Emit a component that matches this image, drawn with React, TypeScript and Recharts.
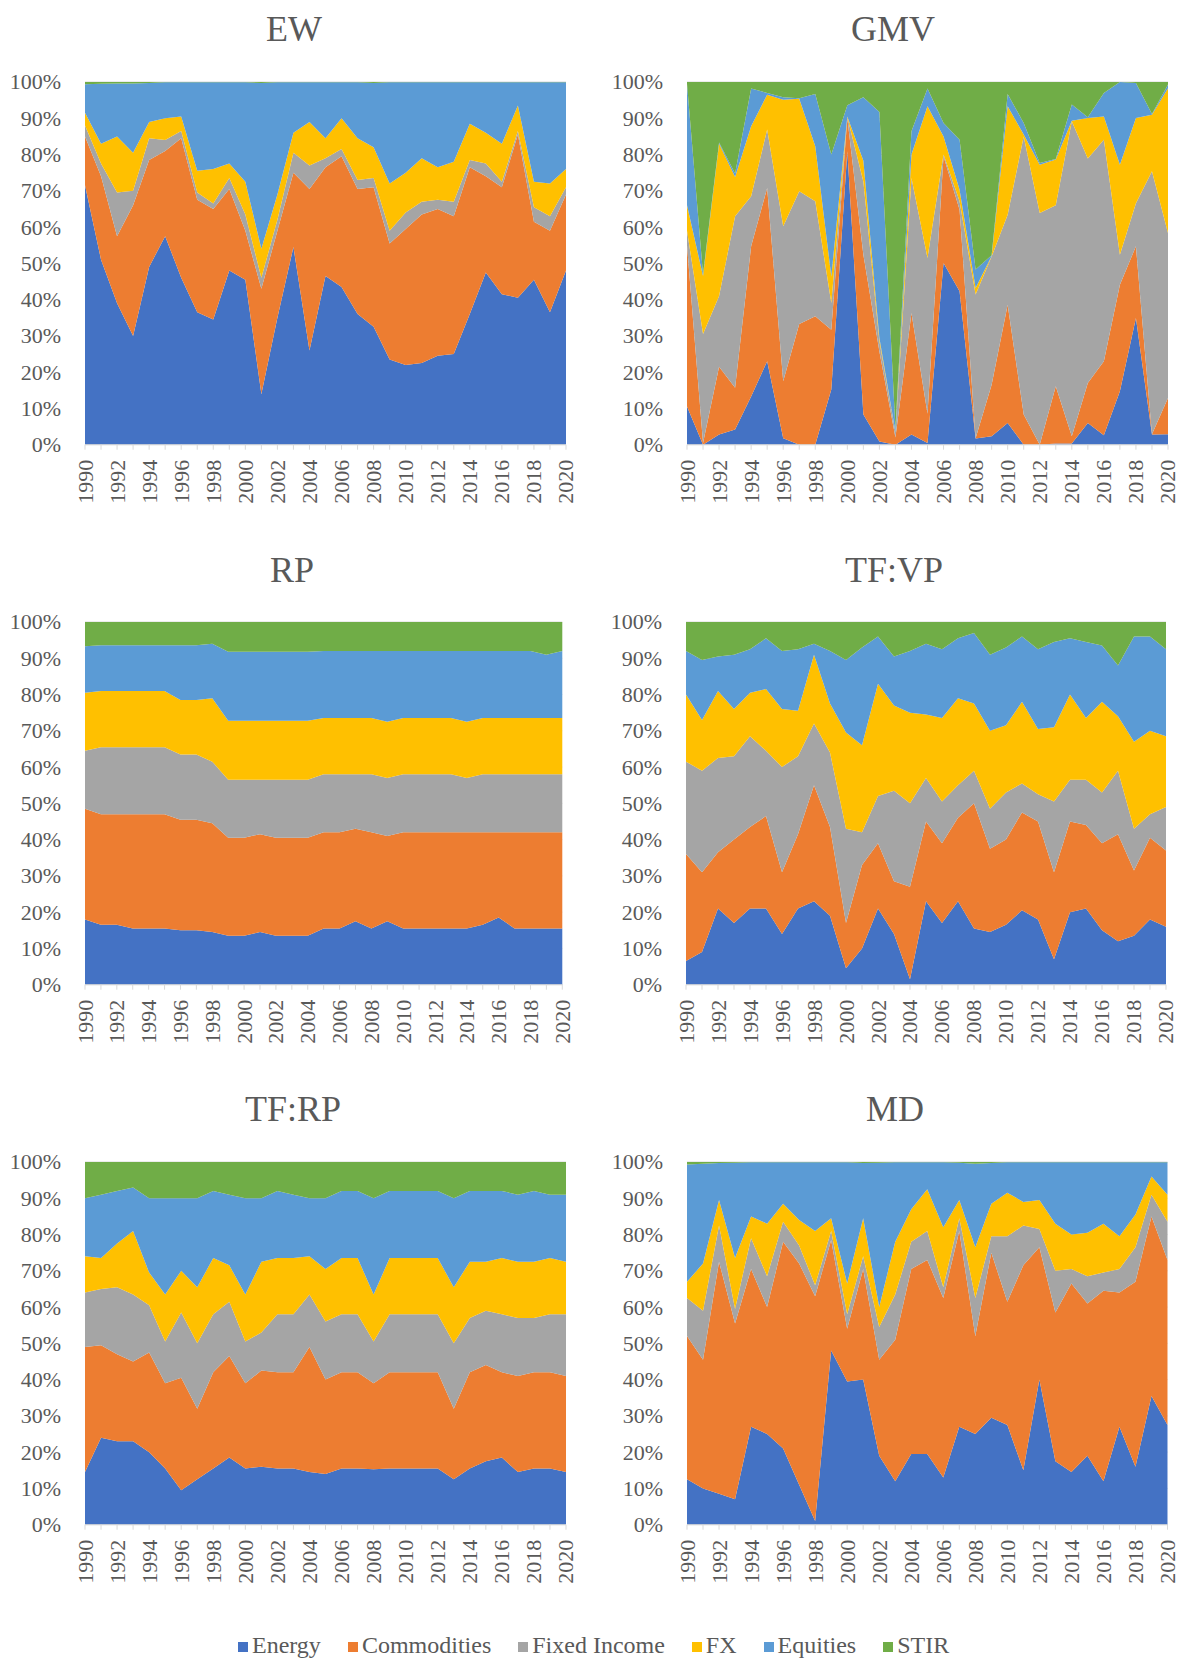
import React from 'react';
import { AreaChart, Area, XAxis, YAxis, CartesianGrid } from 'recharts';

const years = [1990, 1991, 1992, 1993, 1994, 1995, 1996, 1997, 1998, 1999, 2000, 2001, 2002, 2003, 2004, 2005, 2006, 2007, 2008, 2009, 2010, 2011, 2012, 2013, 2014, 2015, 2016, 2017, 2018, 2019, 2020];
const seriesNames = ['Energy', 'Commodities', 'Fixed Income', 'FX', 'Equities', 'STIR'];
const seriesColors = ['#4472C4', '#ED7D31', '#A5A5A5', '#FFC000', '#5B9BD5', '#70AD47'];
const yTicks = [0, 0.1, 0.2, 0.3, 0.4, 0.5, 0.6, 0.7, 0.8, 0.9, 1];

// EW
const ewEnergy = [71.5, 51, 39, 30, 49, 57.5, 46, 36.5, 34.5, 48, 45.5, 14, 35, 54.5, 26, 46.5, 43.5, 36, 32.5, 23.5, 22, 22.5, 24.5, 25, 36, 47.5, 41.5, 40.5, 45.5, 36.5, 48];
const ewCommodities = [13.5, 23, 18.5, 36, 29.5, 23.5, 38.5, 31, 30.5, 22.5, 13.5, 29, 24, 20.5, 44.5, 30, 36, 34.5, 38.5, 32, 37.5, 41, 40.5, 38, 40.5, 26.5, 29.5, 45, 16, 22.5, 21];
const ewFixedIncome = [3, 3.5, 12, 4, 6, 3, 2, 2, 1.5, 3, 4.5, 3, 3, 5.5, 6.5, 2.5, 2, 2.5, 2.5, 3.5, 4.5, 3.5, 2.5, 4, 2, 3.5, 1.5, 1, 4, 4, 2];
const ewFX = [3.5, 5.5, 15.5, 10.5, 4.5, 6, 4, 6, 9.5, 4, 9, 8, 7, 5.5, 12, 5.5, 8.5, 11.5, 8.5, 13, 11, 12, 9, 11, 10, 8.5, 10.5, 7, 7, 9, 5];
const ewEquities = [7.9, 16.5, 14.6, 19.1, 10.7, 9.9, 9.4, 24.4, 23.9, 22.4, 27.4, 45.7, 30.9, 13.9, 10.9, 15.4, 9.9, 15.4, 17.7, 27.9, 24.9, 20.9, 23.4, 21.9, 11.4, 13.9, 16.9, 6.4, 27.4, 27.9, 23.9];
const ewSTIR = [0.6, 0.5, 0.4, 0.4, 0.3, 0.1, 0.1, 0.1, 0.1, 0.1, 0.1, 0.3, 0.1, 0.1, 0.1, 0.1, 0.1, 0.1, 0.3, 0.1, 0.1, 0.1, 0.1, 0.1, 0.1, 0.1, 0.1, 0.1, 0.1, 0.1, 0.1];

// GMV
const gmvEnergy = [10.5, 0, 2.8, 4.2, 13.3, 23, 1.8, 0, 0, 15.2, 80.9, 8.3, 0.9, 0, 2.8, 0.5, 50.1, 42.3, 1.7, 2.3, 6, 0, 0, 0.3, 0.3, 6, 2.6, 14.7, 34.9, 2.8, 2.9];
const gmvCommodities = [44.5, 0.5, 18.7, 11.5, 41.4, 47.8, 15.7, 33.3, 35.4, 16.5, 9.1, 44.1, 24.8, 2, 33.5, 8, 29.4, 22.5, 0.1, 14.2, 32.6, 8.3, 0, 15.8, 2, 11, 20.4, 29.4, 19.8, 0.1, 10];
const gmvFixedIncome = [4, 30, 19.5, 47.3, 13.8, 16.1, 42.7, 36.6, 31.7, 7.4, 0.3, 20.2, 2.8, 1.5, 37.2, 43, 0.5, 2.3, 39.6, 35.4, 24.8, 76.7, 63.9, 49.9, 86.9, 61.9, 61.1, 8.3, 11.9, 72.5, 45.5];
const gmvFX = [7, 16, 42, 10.8, 19.3, 9.6, 34.9, 25.5, 15.2, 7.3, 0.2, 5.7, 0.9, 0.1, 6.5, 41.8, 5, 3.2, 1.8, 0.1, 29.9, 0.5, 13.3, 12.6, 0.1, 11.2, 6.4, 24.8, 23.5, 15.6, 39.9];
const gmvEquities = [33.5, 0.5, 0.3, 1, 10.4, 0.5, 0.7, 0.1, 14.4, 33.6, 3.1, 17.5, 62.3, 0.9, 6.4, 4.9, 3.7, 13.8, 5.1, 0.2, 3.4, 3.2, 0.5, 0.2, 4.5, 0.2, 6.5, 22.8, 9.6, 0.2, 1];
const gmvSTIR = [0.5, 53, 16.7, 25.2, 1.8, 3, 4.2, 4.5, 3.3, 20, 6.4, 4.2, 8.3, 95.5, 13.6, 1.8, 11.3, 15.9, 51.7, 47.8, 3.3, 11.3, 22.3, 21.2, 6.2, 9.7, 3, 0, 0.3, 8.8, 0.7];

// RP
const rpEnergy = [18, 16.5, 16.5, 15.5, 15.5, 15.5, 15, 15, 14.5, 13.5, 13.5, 14.5, 13.5, 13.5, 13.5, 15.5, 15.5, 17.5, 15.5, 17.5, 15.5, 15.5, 15.5, 15.5, 15.5, 16.5, 18.5, 15.5, 15.5, 15.5, 15.5];
const rpCommodities = [30.5, 30.5, 30.5, 31.5, 31.5, 31.5, 30.5, 30.5, 30, 27, 27, 27, 27, 27, 27, 26.5, 26.5, 25.5, 26.5, 23.5, 26.5, 26.5, 26.5, 26.5, 26.5, 25.5, 23.5, 26.5, 26.5, 26.5, 26.5];
const rpFixedIncome = [16, 18.5, 18.5, 18.5, 18.5, 18.5, 18, 18, 17, 16, 16, 15, 16, 16, 16, 16, 16, 15, 16, 16, 16, 16, 16, 16, 15, 16, 16, 16, 16, 16, 16];
const rpFX = [16, 15.5, 15.5, 15.5, 15.5, 15.5, 15, 15, 17.5, 16.3, 16.3, 16.3, 16.3, 16.3, 16.3, 15.5, 15.5, 15.5, 15.5, 15.5, 15.5, 15.5, 15.5, 15.5, 15.5, 15.5, 15.5, 15.5, 15.5, 15.5, 15.5];
const rpEquities = [12.8, 12.6, 12.6, 12.6, 12.6, 12.6, 15.1, 15.1, 15, 19, 19, 19, 19, 19, 19, 18.5, 18.5, 18.5, 18.5, 19.5, 18.5, 18.5, 18.5, 18.5, 19.5, 18.5, 18.5, 18.5, 18.5, 17.5, 18.5];
const rpSTIR = [6.7, 6.4, 6.4, 6.4, 6.4, 6.4, 6.4, 6.4, 6, 8.2, 8.2, 8.2, 8.2, 8.2, 8.2, 8, 8, 8, 8, 8, 8, 8, 8, 8, 8, 8, 8, 8, 8, 9, 8];

// TF:VP
const tfvpEnergy = [6.5, 9, 21, 17, 21, 21, 14, 21, 23, 19, 4.5, 10, 21, 14, 1.5, 23, 17, 23, 15.5, 14.5, 16.5, 20.5, 18, 7, 20, 21, 15, 12, 13.5, 18, 16];
const tfvpCommodities = [29.5, 22, 15.5, 23, 22.5, 25.5, 17, 20.5, 32, 24.5, 12.5, 23, 18, 14.5, 25.5, 22, 22, 23, 34.5, 23, 23.5, 27, 27, 24, 25, 23, 24, 29.5, 18, 22.5, 21];
const tfvpFixedIncome = [25.5, 28, 26, 23, 25, 18, 29, 21.5, 17, 20.5, 26, 9, 13, 25, 23, 12, 11.5, 9, 9, 11, 13, 8, 7.5, 19.5, 11.5, 12.5, 14, 17.5, 11.5, 6.5, 12];
const tfvpFX = [18.5, 14, 18.5, 13, 12, 17, 16, 12.5, 19, 13.5, 26.5, 24, 31, 23.5, 25, 17.5, 23, 24, 18.5, 21.5, 18.5, 22.5, 18, 20.5, 23.5, 17, 25, 15, 24, 23, 19.5];
const tfvpEquities = [12, 16.5, 9.5, 15, 12, 14, 16, 17, 3, 14.5, 20, 27, 13, 13.5, 17, 19.5, 19, 16.5, 19.5, 21, 21.5, 18, 22, 23.5, 15.5, 21, 15.5, 14, 29, 26, 24];
const tfvpSTIR = [8, 10.5, 9.5, 9, 7.5, 4.5, 8, 7.5, 6, 8, 10.5, 7, 4, 9.5, 8, 6, 7.5, 4.5, 3, 9, 7, 4, 7.5, 5.5, 4.5, 5.5, 6.5, 12, 4, 4, 7.5];

// TF:RP
const tfrpEnergy = [14.5, 24, 23, 23, 20, 15.5, 9.5, 12.5, 15.5, 18.5, 15.5, 16, 15.5, 15.5, 14.5, 14, 15.5, 15.5, 15.3, 15.5, 15.5, 15.5, 15.5, 12.5, 15.5, 17.5, 18.5, 14.5, 15.5, 15.5, 14.5];
const tfrpCommodities = [34.5, 25.5, 24, 22, 27.5, 23.5, 31, 19.5, 26.5, 28, 23.5, 26.5, 26.5, 26.5, 34.5, 26, 26.5, 26.5, 23.7, 26.5, 26.5, 26.5, 26.5, 19.5, 26.5, 26.5, 23.5, 26.5, 26.5, 26.5, 26.5];
const tfrpFixedIncome = [15, 15.5, 18.5, 18.5, 13, 11.5, 18, 18, 16, 15, 11.5, 10.5, 16, 16, 14.5, 16, 16, 16, 11.5, 16, 16, 16, 16, 18, 15, 15, 16, 16, 15, 16, 17];
const tfrpFX = [10, 8.5, 12, 17.5, 9, 13, 11.5, 15.5, 15.5, 10, 13, 19.5, 15.5, 15.5, 10.5, 14.5, 15.5, 15.5, 13, 15.5, 15.5, 15.5, 15.5, 15.5, 15.5, 13.5, 15.5, 15.5, 15.5, 15.5, 14.5];
const tfrpEquities = [16, 17.5, 14.5, 12, 20.5, 26.5, 20, 24.5, 18.5, 19.5, 26.5, 17.5, 18.5, 17.5, 16, 19.5, 18.5, 18.5, 26.5, 18.5, 18.5, 18.5, 18.5, 24.5, 19.5, 19.5, 18.5, 18.5, 19.5, 17.5, 18.5];
const tfrpSTIR = [10, 9, 8, 7, 10, 10, 10, 10, 8, 9, 10, 10, 8, 9, 10, 10, 8, 8, 10, 8, 8, 8, 8, 10, 8, 8, 8, 9, 8, 9, 9];

// MD
const mdEnergy = [12.5, 10, 8.5, 7, 27, 25, 21, 11, 1, 48, 39.5, 40, 19, 12, 19.5, 19.5, 13, 27, 25, 29.5, 27.5, 15, 40, 17.5, 14.5, 19, 12, 27, 16, 35.5, 27.5];
const mdCommodities = [39.5, 35.5, 64, 48.5, 43.5, 35, 57, 61, 62, 30.5, 14.5, 30.5, 26.5, 39, 51, 53.5, 49.5, 54, 27, 45.5, 34, 56.5, 36.5, 41, 52, 42, 52.5, 37, 51, 49.5, 45.5];
const mdFixedIncome = [10.5, 13.5, 10, 4, 8.5, 8.5, 5.5, 5, 3, 2.5, 4, 3.5, 9, 12.5, 7.5, 8, 3, 3.5, 10.5, 4.5, 18, 11, 5, 11.5, 4, 7.5, 5, 6.5, 9.5, 6, 10.5];
const mdFX = [4.5, 13, 7, 14, 6, 14.5, 5, 7, 15, 3.5, 8.5, 10.5, 5.5, 14.5, 9, 11.5, 16.5, 5, 14, 9, 12, 6.5, 8, 13, 9.5, 12, 13.5, 9, 9, 5, 7.5];
const mdEquities = [32.3, 27.5, 10.2, 26.3, 14.9, 16.9, 11.4, 15.9, 18.9, 15.4, 33.4, 15.2, 39.8, 21.9, 12.9, 7.4, 17.9, 10.3, 23, 11.2, 8.4, 10.9, 10.4, 16.9, 19.9, 19.4, 16.9, 20.4, 14.4, 3.9, 8.9];
const mdSTIR = [0.7, 0.5, 0.3, 0.2, 0.1, 0.1, 0.1, 0.1, 0.1, 0.1, 0.1, 0.3, 0.2, 0.1, 0.1, 0.1, 0.1, 0.2, 0.5, 0.3, 0.1, 0.1, 0.1, 0.1, 0.1, 0.1, 0.1, 0.1, 0.1, 0.1, 0.1];

const FONT = "'Liberation Serif', 'Times New Roman', Times, serif";
const TEXT_COLOR = '#595959';
const AXIS_COLOR = '#D9D9D9';

function buildData(series: number[][]) {
  return years.map((yr, i) => {
    const row: Record<string, number | string> = { year: String(yr) };
    seriesNames.forEach((name, k) => {
      row[name] = series[k][i];
    });
    return row;
  });
}

const panels = [
  { title: 'EW', series: [ewEnergy, ewCommodities, ewFixedIncome, ewFX, ewEquities, ewSTIR], L: 85.4, T: 82.3, W: 481, titleX: 294, titleY: 28.8 },
  { title: 'GMV', series: [gmvEnergy, gmvCommodities, gmvFixedIncome, gmvFX, gmvEquities, gmvSTIR], L: 686.7, T: 82.3, W: 481, titleX: 893, titleY: 28.8 },
  { title: 'RP', series: [rpEnergy, rpCommodities, rpFixedIncome, rpFX, rpEquities, rpSTIR], L: 85.4, T: 622.3, W: 477.3, titleX: 292, titleY: 570 },
  { title: 'TF:VP', series: [tfvpEnergy, tfvpCommodities, tfvpFixedIncome, tfvpFX, tfvpEquities, tfvpSTIR], L: 686, T: 622.3, W: 480, titleX: 894, titleY: 569.5 },
  { title: 'TF:RP', series: [tfrpEnergy, tfrpCommodities, tfrpFixedIncome, tfrpFX, tfrpEquities, tfrpSTIR], L: 85.4, T: 1162.3, W: 481, titleX: 293, titleY: 1109 },
  { title: 'MD', series: [mdEnergy, mdCommodities, mdFixedIncome, mdFX, mdEquities, mdSTIR], L: 686.7, T: 1162.3, W: 480.5, titleX: 895, titleY: 1109 },
];

const PLOT_H = 362.7;
const Y_AXIS_W = 80;
const TOP_PAD = 20;
const RIGHT_PAD = 15;
const X_AXIS_H = 80;

const textStyle = { fontFamily: FONT, fontSize: 22, fill: TEXT_COLOR };

const XTick = (props: any) => {
  const { x, y, payload } = props;
  const yr = Number(payload.value);
  if (yr % 2 !== 0) return <g />;
  return (
    <text
      x={0}
      y={0}
      transform={`translate(${x},${y}) rotate(-90)`}
      textAnchor="end"
      dominantBaseline="central"
      style={textStyle}
    >
      {payload.value}
    </text>
  );
};

const pct = (v: number) => `${Math.round(v * 100)}%`;

const YTick = (props: any) => {
  const { x, y, payload } = props;
  return (
    <text x={x} y={y} textAnchor="end" dominantBaseline="central" style={textStyle}>
      {pct(payload.value)}
    </text>
  );
};

function Panel({ p }: { p: (typeof panels)[number] }) {
  const data = buildData(p.series);
  const width = Y_AXIS_W + p.W + RIGHT_PAD;
  const height = TOP_PAD + PLOT_H + X_AXIS_H;
  return (
    <>
      <div
        style={{
          position: 'absolute',
          left: p.titleX - 150,
          top: p.titleY - 20,
          width: 300,
          height: 40,
          lineHeight: '40px',
          textAlign: 'center',
          fontFamily: FONT,
          fontSize: 36,
          color: TEXT_COLOR,
          whiteSpace: 'nowrap',
        }}
      >
        {p.title}
      </div>
      <div style={{ position: 'absolute', left: p.L - Y_AXIS_W, top: p.T - TOP_PAD, width, height, fontFamily: FONT }}>
        <AreaChart
          width={width}
          height={height}
          data={data}
          stackOffset="expand"
          margin={{ top: TOP_PAD, right: RIGHT_PAD, bottom: 0, left: 0 }}
          style={{ fontFamily: FONT }}
        >
          <CartesianGrid vertical={false} stroke={AXIS_COLOR} />
          <XAxis
            dataKey="year"
            type="category"
            interval={0}
            height={X_AXIS_H}
            tick={<XTick />}
            tickSize={5}
            tickMargin={10}
            tickLine={{ stroke: AXIS_COLOR }}
            axisLine={{ stroke: AXIS_COLOR }}
          />
          <YAxis
            width={Y_AXIS_W}
            domain={[0, 1]}
            ticks={yTicks}
            axisLine={false}
            tickLine={false}
            tickSize={0}
            tickMargin={24}
            tick={<YTick />}
          />
          {seriesNames.map((name, k) => (
            <Area
              key={name}
              type="linear"
              dataKey={name}
              stackId="s"
              stroke="none"
              fill={seriesColors[k]}
              fillOpacity={1}
              dot={false}
              activeDot={false}
              isAnimationActive={false}
            />
          ))}
        </AreaChart>
      </div>
    </>
  );
}

function Legend() {
  return (
    <div
      style={{
        position: 'absolute',
        left: 238,
        top: 1630,
        height: 30,
        display: 'flex',
        alignItems: 'center',
        fontFamily: FONT,
        fontSize: 24,
        color: TEXT_COLOR,
        whiteSpace: 'nowrap',
      }}
    >
      {seriesNames.map((name, k) => (
        <div key={name} style={{ display: 'flex', alignItems: 'center', marginRight: k === seriesNames.length - 1 ? 0 : 27 }}>
          <span style={{ display: 'inline-block', width: 10, height: 10, background: seriesColors[k], marginRight: 4, marginTop: 4 }} />
          <span style={{ fontFamily: FONT }}>{name}</span>
        </div>
      ))}
    </div>
  );
}

export default function App() {
  return (
    <div style={{ position: 'absolute', left: 0, top: 0, width: 1181, height: 1661, background: '#ffffff', overflow: 'hidden', fontFamily: FONT }}>
      {panels.map((p) => (
        <Panel key={p.title} p={p} />
      ))}
      <Legend />
    </div>
  );
}
